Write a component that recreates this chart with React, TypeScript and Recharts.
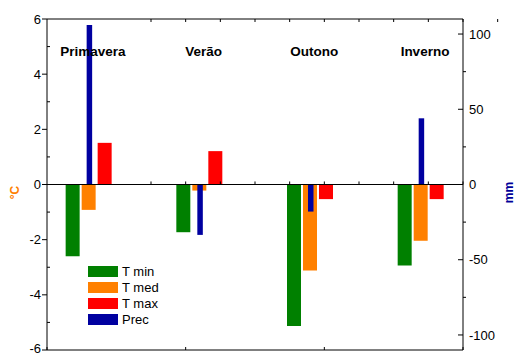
import React from 'react';
import { BarChart, Bar, XAxis, YAxis, ReferenceLine, Legend } from 'recharts';

const categories = ['Primavera', 'Verão', 'Outono', 'Inverno'];
const tMin = [-2.6, -1.73, -5.13, -2.94];
const tMed = [-0.92, -0.22, -3.12, -2.04];
const tMax = [1.51, 1.21, -0.53, -0.53];
const prec = [106, -33.5, -18, 44];

const leftTicks = [-6, -5, -4, -3, -2, -1, 0, 1, 2, 3, 4, 5, 6];
const rightTicks = [-100, -75, -50, -25, 0, 25, 50, 75, 100];
const topTicks = [0.75, 1, 1.25, 1.5, 1.75, 2, 2.25, 2.5, 2.75, 3, 3.25, 3.5, 3.75, 4, 4.25];
const bottomTicks = [0, 1, 2, 3, 4, 5, 6, 7, 8, 9, 10];
const xDomain: [number, number] = [0.6206, 4.3794];

const seriesNames = ['T min', 'T med', 'T max', 'Prec'];
const seriesColors = ['#008000', '#FF8000', '#FF0000', '#0000A0'];

const data = categories.map((c, i) => ({
  name: c,
  tMin: tMin[i],
  tMed: tMed[i],
  tMax: tMax[i],
  prec: prec[i],
}));

const FONT = '"Liberation Sans", Arial, sans-serif';

const LeftTick = (p: any) => {
  const v = p.payload.value;
  const major = v % 2 === 0;
  return (
    <g>
      <line x1={p.x} x2={major ? p.x - 5 : p.x + 3} y1={p.y} y2={p.y} stroke="#000" />
      {major && (
        <text x={p.x - 6} y={p.y} dy={v === -6 ? 3 : 4.6} textAnchor="end" fontSize={13} fill="#000" fontFamily={FONT}>
          {String(v)}
        </text>
      )}
    </g>
  );
};

const RightTick = (p: any) => {
  const v = p.payload.value;
  const major = v % 50 === 0;
  return (
    <g>
      <line x1={p.x} x2={major ? p.x - 5 : p.x + 3} y1={p.y} y2={p.y} stroke="#000" />
      {major && (
        <text x={p.x + 6} y={p.y} dy={4.6} textAnchor="start" fontSize={13} fill="#000" fontFamily={FONT}>
          {String(v)}
        </text>
      )}
    </g>
  );
};

const TopTick = (p: any) => (
  <line x1={p.x} x2={p.x} y1={p.y} y2={p.y + 3} stroke="#000" />
);

const BottomTick = (p: any) => (
  <line x1={p.x} x2={p.x} y1={p.y} y2={p.y - 3} stroke="#000" />
);

const CatTick = (p: any) => (
  <text x={p.x + 4} y={p.y + 37} textAnchor="middle" fontSize={13.5} fontWeight="bold" fill="#000" fontFamily={FONT}>
    {p.payload.value}
  </text>
);

const axisTitle = (text: string, color: string, dx: number) => (props: any) => {
  const vb = props.viewBox || { x: 0, y: 0, width: 0, height: 0 };
  const cx = vb.x + dx;
  const cy = vb.y + vb.height / 2 + 8;
  return (
    <text
      x={cx}
      y={cy}
      transform={`rotate(-90 ${cx} ${cy})`}
      textAnchor="middle"
      dominantBaseline="central"
      fontSize={12}
      fontWeight="bold"
      fill={color}
      fontFamily={FONT}
    >
      {text}
    </text>
  );
};

const LegendContent = (props: any) => {
  const payload = [...(props.payload || [])].sort(
    (a: any, b: any) => seriesNames.indexOf(a.value) - seriesNames.indexOf(b.value)
  );
  return (
    <div style={{ fontFamily: FONT, fontSize: 13, color: '#000' }}>
      {payload.map((e: any, i: number) => (
        <div key={i} style={{ display: 'flex', alignItems: 'center', height: 16 }}>
          <div style={{ width: 30, height: 11, background: e.color, marginRight: 4 }} />
          <span>{e.value}</span>
        </div>
      ))}
    </div>
  );
};

export default function App() {
  return (
    <div style={{ position: 'absolute', left: 0, top: 0 }}>
      <BarChart
        width={515}
        height={356}
        data={data}
        barGap={2}
        margin={{ top: 0, right: 12, bottom: 0, left: 7 }}
        style={{ fontFamily: FONT }}
      >
        <XAxis
          xAxisId="q"
          type="number"
          orientation="top"
          domain={xDomain}
          allowDataOverflow
          ticks={topTicks}
          height={19}
          tickSize={0}
          tickMargin={0}
          tickLine={false}
          tick={TopTick}
          axisLine={{ stroke: '#000' }}
          interval={0}
        />
        <XAxis
          xAxisId="b"
          type="number"
          orientation="bottom"
          domain={[0, 10]}
          allowDataOverflow
          ticks={bottomTicks}
          height={6}
          tickSize={0}
          tickMargin={0}
          tickLine={false}
          tick={BottomTick}
          axisLine={{ stroke: '#000' }}
          interval={0}
        />
        <XAxis
          xAxisId="cat"
          dataKey="name"
          orientation="top"
          mirror
          height={1}
          padding={{ left: -13.35, right: -13.35 }}
          tickSize={0}
          tickMargin={0}
          tickLine={false}
          axisLine={false}
          tick={CatTick}
          interval={0}
        />
        <XAxis xAxisId="prec" dataKey="name" hide padding={{ left: -13.35, right: -13.35 }} />
        <YAxis
          yAxisId="left"
          orientation="left"
          width={40}
          domain={[-6, 6]}
          ticks={leftTicks}
          interval={0}
          tickSize={0}
          tickMargin={0}
          tickLine={false}
          tick={LeftTick}
          axisLine={{ stroke: '#000' }}
          label={{ content: axisTitle('°C', '#FF8000', 8) }}
        />
        <YAxis
          yAxisId="right"
          orientation="right"
          width={40}
          domain={[-110, 110]}
          allowDataOverflow
          ticks={rightTicks}
          interval={0}
          tickSize={0}
          tickMargin={0}
          tickLine={false}
          tick={RightTick}
          axisLine={{ stroke: '#000' }}
          label={{ content: axisTitle('mm', '#000099', 46) }}
        />
        <Bar xAxisId="cat" yAxisId="left" dataKey="tMin" name={seriesNames[0]} fill={seriesColors[0]} barSize={14} isAnimationActive={false} />
        <Bar xAxisId="cat" yAxisId="left" dataKey="tMed" name={seriesNames[1]} fill={seriesColors[1]} barSize={14} isAnimationActive={false} />
        <Bar xAxisId="cat" yAxisId="left" dataKey="tMax" name={seriesNames[2]} fill={seriesColors[2]} barSize={14} isAnimationActive={false} />
        <Bar xAxisId="prec" yAxisId="right" dataKey="prec" name={seriesNames[3]} fill={seriesColors[3]} barSize={5.5} isAnimationActive={false} />
        <ReferenceLine xAxisId="q" yAxisId="left" y={0} stroke="#000" />
        {topTicks.map((v) => (
          <ReferenceLine
            key={v}
            xAxisId="q"
            yAxisId="left"
            segment={[{ x: v, y: 0 }, { x: v, y: 0.11 }]}
            stroke="#000"
          />
        ))}
        <Legend
          layout="vertical"
          align="center"
          verticalAlign="middle"
          content={LegendContent}
          wrapperStyle={{ left: 88, top: 263, width: 'auto', height: 'auto' }}
        />
      </BarChart>
    </div>
  );
}
